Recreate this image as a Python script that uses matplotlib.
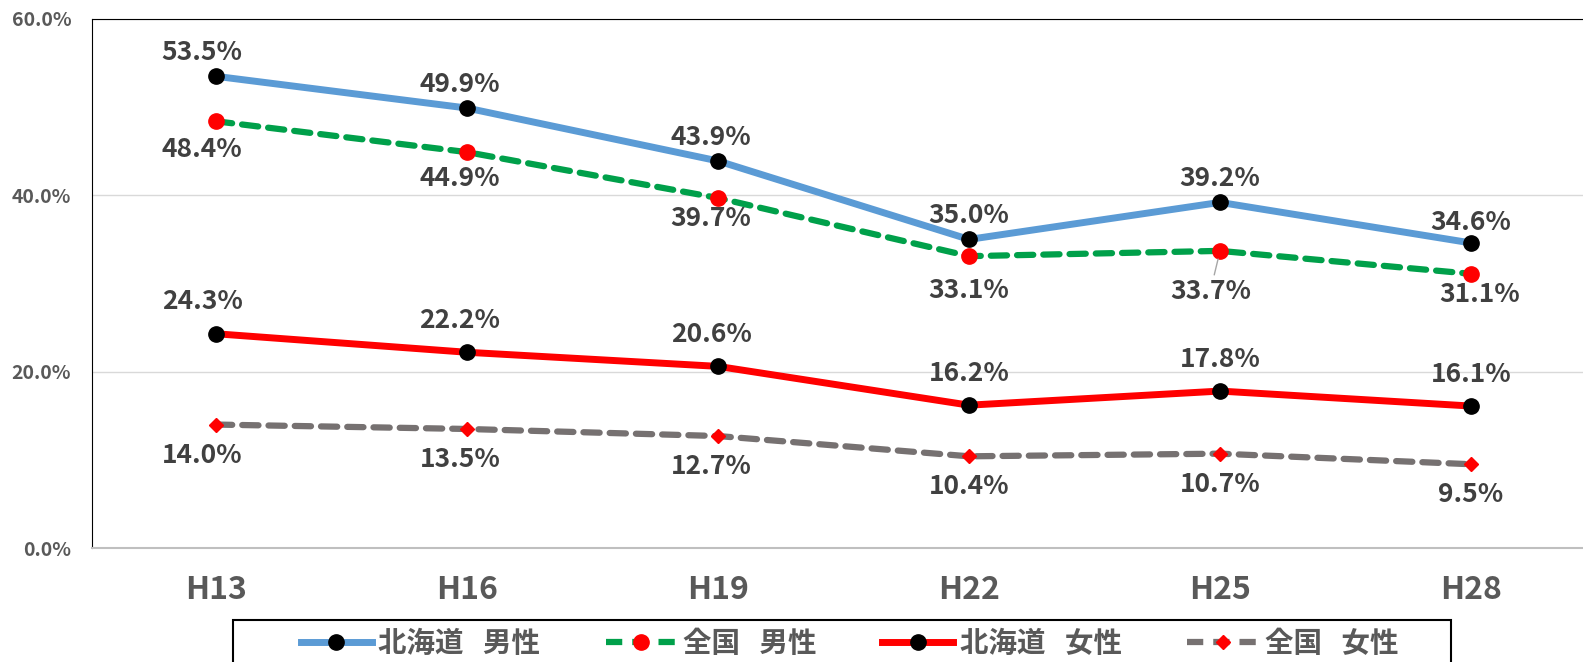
import numpy as np
import matplotlib.pyplot as plt
from matplotlib.lines import Line2D
from matplotlib.patches import Rectangle

plt.rcParams['font.family'] = ['Noto Sans CJK JP', 'DejaVu Sans']

# 調査年
years = ['H13', 'H16', 'H19', 'H22', 'H25', 'H28']

# 各系列の値 (%)
hokkaido_male = [53.5, 49.9, 43.9, 35.0, 39.2, 34.6]
zenkoku_male = [48.4, 44.9, 39.7, 33.1, 33.7, 31.1]
hokkaido_female = [24.3, 22.2, 20.6, 16.2, 17.8, 16.1]
zenkoku_female = [14.0, 13.5, 12.7, 10.4, 10.7, 9.5]

series_names = ['北海道   男性', '全国   男性', '北海道   女性', '全国   女性']

label_color = '#404040'
tick_color = '#595959'
W, H = 1583, 662

fig = plt.figure(figsize=(W / 100, H / 100), dpi=100)
ax = fig.add_axes([92 / W, 1 - 548 / H, 1 - 92 / W, (548 - 19) / H])

x = np.arange(len(years))
dash = (0, (2.6, 1.6))

# 線の描画
ax.plot(x, hokkaido_male, color='#5B9BD5', lw=5, marker='o', ms=11,
        mfc='black', mec='black', solid_capstyle='round', zorder=4)
ax.plot(x, zenkoku_male, color='#00A04A', lw=4.5, ls=dash,
        marker='o', ms=11, mfc='red', mec='red', dash_capstyle='round', zorder=3)
ax.plot(x, hokkaido_female, color='#FF0000', lw=5, marker='o', ms=11,
        mfc='black', mec='black', solid_capstyle='round', zorder=4)
ax.plot(x, zenkoku_female, color='#767171', lw=4.5, ls=dash,
        marker='D', ms=7, mfc='red', mec='red', dash_capstyle='round', zorder=3)


def add_labels(values, dys, dxs):
    for i, v in enumerate(values):
        kw = {}
        if dys[i] < -27:
            # 引き出し線
            kw['arrowprops'] = dict(arrowstyle='-', color='#A6A6A6', lw=1,
                                    shrinkA=0, shrinkB=6)
        ax.annotate(f'{v:.1f}%', (x[i], v), xytext=(dxs[i], dys[i]),
                    textcoords='offset points', ha='center', va='center',
                    fontsize=19, fontweight='bold', color=label_color,
                    zorder=6, **kw)


shift = [-10, -5, -5, 0, 0, 0]
add_labels(hokkaido_male, [17, 17, 17, 17, 17, 15], shift)
add_labels(zenkoku_male, [-20, -19, -15, -25, -29, -15], [-10, -5, -5, 0, -7, 6])
add_labels(hokkaido_female, [23] * 6, shift)
add_labels(zenkoku_female, [-22] * 6, shift)

ax.set_xlim(-0.494, 5.446)
ax.set_ylim(0, 60)
ax.set_yticks([0, 20, 40, 60])
ax.set_yticklabels([f'{t:.1f}%' for t in [0, 20, 40, 60]])
ax.set_xticks(x)
ax.set_xticklabels(years)
ax.yaxis.grid(True, color='#D9D9D9', lw=1)
ax.set_axisbelow(True)
ax.tick_params(axis='y', length=0, pad=15, labelsize=14, labelcolor=tick_color)
ax.tick_params(axis='x', length=0, pad=19, labelsize=23, labelcolor=tick_color)
for lab in ax.get_yticklabels() + ax.get_xticklabels():
    lab.set_fontweight('bold')

ax.spines['left'].set_color('black')
ax.spines['top'].set_color('black')
ax.spines['right'].set_visible(False)
ax.spines['bottom'].set_color('#BFBFBF')
ax.spines['bottom'].set_linewidth(1.5)

# 凡例
fig.patches.append(Rectangle((233 / W, 1 - 680 / H), (1451 - 233) / W, 60 / H,
                             transform=fig.transFigure, fill=False,
                             edgecolor='black', lw=1.5))
handles = [
    Line2D([], [], color='#5B9BD5', lw=5, marker='o', ms=11, mfc='black', mec='black'),
    Line2D([], [], color='#00A04A', lw=4.5, ls=dash, marker='o', ms=11,
           mfc='red', mec='red'),
    Line2D([], [], color='#FF0000', lw=5, marker='o', ms=11, mfc='black', mec='black'),
    Line2D([], [], color='#767171', lw=4.5, ls=dash, marker='D', ms=7,
           mfc='red', mec='red'),
]
fig.legend(handles, series_names, loc='center left',
           bbox_to_anchor=(278 / W, 1 - 644 / H), ncol=4,
           prop={'size': 20.5, 'weight': 'bold'}, labelcolor=tick_color,
           frameon=False, handlelength=2.5, handletextpad=0.22,
           columnspacing=2.3, borderpad=0.3)

fig.savefig('out.png', dpi=100)
